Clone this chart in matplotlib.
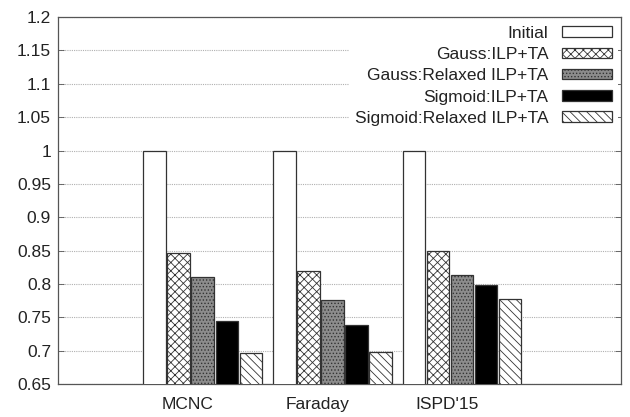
import numpy as np
import matplotlib.pyplot as plt

plt.rcParams['font.family'] = ['Liberation Sans', 'DejaVu Sans']
plt.rcParams['hatch.linewidth'] = 0.6

benchmarks = ['MCNC', 'Faraday', "ISPD'15"]
series = ['Initial', 'Gauss:ILP+TA', 'Gauss:Relaxed ILP+TA',
          'Sigmoid:ILP+TA', 'Sigmoid:Relaxed ILP+TA']
initial = [1.0, 1.0, 1.0]
gauss_ilp = [0.847, 0.820, 0.850]
gauss_relaxed = [0.811, 0.776, 0.813]
sigmoid_ilp = [0.744, 0.738, 0.799]
sigmoid_relaxed = [0.697, 0.698, 0.778]

values = [initial, gauss_ilp, gauss_relaxed, sigmoid_ilp, sigmoid_relaxed]
faces = ['white', 'white', '#8c8c8c', 'black', 'white']
hatches = ['', 'xxxx', '.....', '', '\\\\\\\\']
ylabels = ['0.65', '0.7', '0.75', '0.8', '0.85', '0.9', '0.95', '1',
           '1.05', '1.1', '1.15', '1.2']

fig = plt.figure(figsize=(6.3, 4.17), dpi=100)
ax = fig.add_axes([0.092, 0.079, 0.894, 0.880])

x = np.arange(len(benchmarks))
width = 0.172
offsets = [-0.255, -0.07, 0.115, 0.30, 0.485]
for i in range(len(series)):
    ax.bar(x + offsets[i], values[i], width, color=faces[i],
           hatch=hatches[i], edgecolor='#333333', linewidth=0.9,
           label=series[i], zorder=3)

ax.set_ylim(0.65, 1.2)
ax.set_xlim(-1.0, 3.34)
ax.set_yticks(np.linspace(0.65, 1.2, 12))
ax.set_yticklabels(ylabels)
ax.set_xticks(x)
ax.set_xticklabels(benchmarks)
ax.tick_params(direction='in', length=4, width=0.6, color='#555555',
               labelsize=12.5, top=True, right=True, pad=5, labelcolor='#222222')
ax.tick_params(axis='x', length=0, pad=9)
ax.yaxis.grid(True, linestyle=(0, (1, 1)), color='#b0b0b0', linewidth=0.8, zorder=0)
for s in ax.spines.values():
    s.set_color('#555555')
    s.set_linewidth(0.9)

leg = ax.legend(loc='upper right', markerfirst=False, fontsize=12.5,
                handlelength=2.9, handleheight=0.55, labelspacing=0.36,
                borderaxespad=0.2, handletextpad=0.8, borderpad=0.3,
                frameon=True, fancybox=False, framealpha=1)
leg.get_frame().set_edgecolor('none')
for t in leg.get_texts():
    t.set_color('#222222')
leg.set_zorder(5)

fig.savefig('out.png', dpi=100)
